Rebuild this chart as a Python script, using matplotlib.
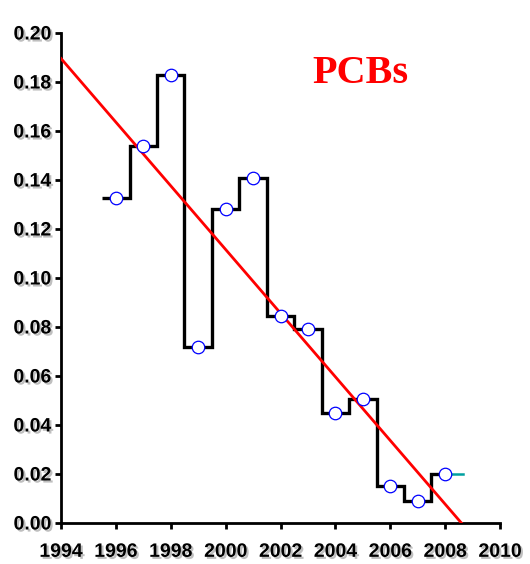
import matplotlib
matplotlib.use('Agg')
import matplotlib.pyplot as plt
import matplotlib.patheffects as pe
import numpy as np

# PCB yearly values
years = np.arange(1996, 2009)
pcb = np.array([0.1325, 0.154, 0.183, 0.072, 0.128, 0.141, 0.0845,
                0.079, 0.045, 0.0505, 0.015, 0.009, 0.020])
tail_end = 2008.65   # teal tail after last point

xticks = np.arange(1994, 2011, 2)
yticks = np.arange(0, 0.201, 0.02)

fig = plt.figure(figsize=(5.3, 5.64), dpi=100)
ax = fig.add_axes([0.1151, 0.0727, 0.8283, 0.8688])

# step line, changes halfway between years
edges = np.concatenate([years - 0.5, [years[-1]]])
ax.stairs(pcb, edges, color='black', lw=2.4, baseline=None, zorder=2)
ax.plot([years[-1], tail_end], [pcb[-1], pcb[-1]], color='#00a0a0', lw=1.8, zorder=2)

# linear trend (least squares)
k, q = np.polyfit(years, pcb, 1)
xl = np.array([1994, 2010])
ax.plot(xl, k * xl + q, color='red', lw=2.0, zorder=3)

ax.plot(years, pcb, 'o', ms=9, mfc='white', mec='blue', mew=0.9, zorder=4)

fig.text(360 / 530, 1 - 83 / 564, 'PCBs', color='red', fontsize=29,
         fontweight='bold', family='Liberation Serif', ha='center', va='baseline')

ax.set_xlim(1994, 2010)
ax.set_ylim(0, 0.20)
ax.set_xticks(xticks)
ax.set_yticks(yticks)
ax.set_yticklabels(['%.2f' % v for v in yticks])
for s in ['top', 'right']:
    ax.spines[s].set_visible(False)
for s in ['left', 'bottom']:
    ax.spines[s].set_linewidth(2)
ax.tick_params(direction='out', length=4, width=2)
ax.tick_params(axis='y', pad=3)
ax.tick_params(axis='x', pad=11)

shadow = [pe.withSimplePatchShadow(offset=(1.5, -1.5), shadow_rgbFace='gray', alpha=0.5)]
for lab in ax.get_xticklabels() + ax.get_yticklabels():
    lab.set_fontsize(14)
    lab.set_fontweight('bold')
    lab.set_family('Liberation Sans')
    lab.set_path_effects(shadow)

plt.savefig('out.png', dpi=100)
